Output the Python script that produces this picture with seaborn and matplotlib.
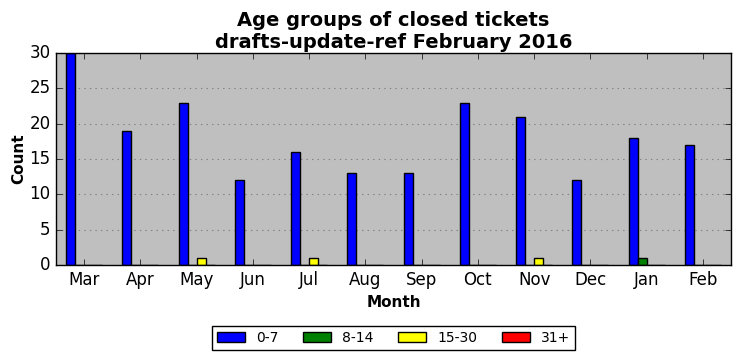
import matplotlib
matplotlib.use("Agg")
import matplotlib.pyplot as plt
import seaborn as sns
import pandas as pd

months = ["Mar", "Apr", "May", "Jun", "Jul", "Aug", "Sep", "Oct", "Nov", "Dec", "Jan", "Feb"]
age_groups = ["0-7", "8-14", "15-30", "31+"]
counts_0_7 = [30, 19, 23, 12, 16, 13, 13, 23, 21, 12, 18, 17]
counts_8_14 = [0, 0, 0, 0, 0, 0, 0, 0, 0, 0, 1, 0]
counts_15_30 = [0, 0, 1, 0, 1, 0, 0, 0, 1, 0, 0, 0]
counts_31 = [0, 0, 0, 0, 0, 0, 0, 0, 0, 0, 0, 0]
colors = ["#0000ff", "#008000", "#ffff00", "#ff0000"]

rows = []
for grp, vals in zip(age_groups, [counts_0_7, counts_8_14, counts_15_30, counts_31]):
    for m, v in zip(months, vals):
        rows.append({"Month": m, "Count": v, "Age": grp})
df = pd.DataFrame(rows)

plt.style.use("classic")
plt.rcParams["font.family"] = ["DejaVu Sans"]

fig = plt.figure(figsize=(7.41, 3.61), dpi=100, facecolor="white")
ax = fig.add_axes([0.0756, 0.266, 0.911, 0.587])
ax.set_facecolor("#bfbfbf")

sns.barplot(data=df, x="Month", y="Count", hue="Age", order=months, hue_order=age_groups,
            palette=colors, saturation=1, width=0.64, gap=0, edgecolor="black",
            linewidth=1, ax=ax, errorbar=None)

ax.set_xlim(-0.5, 11.5)
ax.set_ylim(0, 30)
ax.set_yticks(range(0, 31, 5))
ax.yaxis.grid(True, linestyle=":", color="#808080", linewidth=0.8)
ax.xaxis.grid(False)
ax.set_axisbelow(True)
ax.tick_params(labelsize=12, direction="in", top=True, right=True)

ax.set_title("Age groups of closed tickets\ndrafts-update-ref February 2016",
             fontsize=14, fontweight="bold", y=0.99)
ax.set_xlabel("Month", fontsize=11, fontweight="bold")
ax.set_ylabel("Count", fontsize=11, fontweight="bold", labelpad=2)

ax.legend(loc="upper center", bbox_to_anchor=(0.5, -0.255), ncol=4, fontsize=10,
          fancybox=False, frameon=True, edgecolor="black", title=None,
          columnspacing=1.8, borderpad=0.35)

fig.savefig("out.png", dpi=100, facecolor="white")
